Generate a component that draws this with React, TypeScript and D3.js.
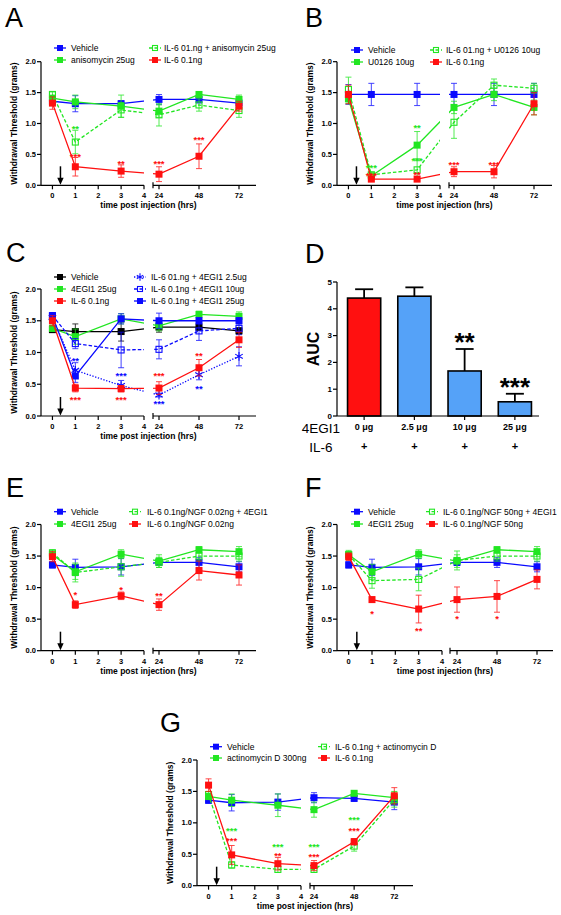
import React from 'react';
import * as d3 from 'd3';

// ---------- shared ----------
const TIMES = [0, 1, 3, 24, 48, 72];
const X_TICKS_LEFT = [0, 1, 2, 3, 4];
const X_TICKS_RIGHT = [24, 48, 72];
const Y_TICKS = [0, 0.5, 1.0, 1.5, 2.0];
const Y_TICK_LABELS = ['0.0', '0.5', '1.0', '1.5', '2.0'];
const ARROW_T = 0.35;

const BLUE = '#0a0aff';
const GREEN = '#22e622';
const RED = '#ff1010';
const BLACK = '#000000';
const BAR_BLUE = '#55a2f8';

// ---------- Panel A ----------
const A_VEH = [1.36, 1.32, 1.32, 1.39, 1.39, 1.33];
const A_VEH_E = [0.04, 0.13, 0.05, 0.08, 0.06, 0.06];
const A_ANISO = [1.41, 1.35, 1.28, 1.2, 1.47, 1.39];
const A_ANISO_E = [0.04, 0.11, 0.18, 0.1, 0.04, 0.07];
const A_IL6ANISO = [1.47, 0.7, 1.22, 1.14, 1.3, 1.21];
const A_IL6ANISO_E = [0.04, 0.19, 0.12, 0.18, 0.1, 0.11];
const A_IL6 = [1.33, 0.3, 0.23, 0.18, 0.47, 1.28];
const A_IL6_E = [0.1, 0.15, 0.1, 0.12, 0.2, 0.08];
const A_STARS = [
  { t: 1, v: 0.95, s: '**', c: GREEN },
  { t: 1, v: 0.49, s: '***', c: RED },
  { t: 3, v: 0.38, s: '**', c: RED },
  { t: 24, v: 0.38, s: '***', c: RED },
  { t: 48, v: 0.76, s: '***', c: RED },
];

// ---------- Panel B ----------
const B_VEH = [1.47, 1.47, 1.47, 1.47, 1.47, 1.47];
const B_VEH_E = [0.16, 0.18, 0.18, 0.18, 0.18, 0.18];
const B_U0126 = [1.4, 0.15, 0.65, 1.26, 1.47, 1.26];
const B_U0126_E = [0.08, 0.03, 0.22, 0.1, 0.1, 0.12];
const B_IL6U = [1.55, 0.17, 0.25, 1.02, 1.62, 1.57];
const B_IL6U_E = [0.2, 0.04, 0.15, 0.26, 0.1, 0.08];
const B_IL6 = [1.47, 0.1, 0.1, 0.22, 0.22, 1.32];
const B_IL6_E = [0.15, 0.03, 0.03, 0.08, 0.1, 0.18];
const B_STARS = [
  { t: 1, v: 0.32, s: '***', c: GREEN },
  { t: 1, v: 0.19, s: '***', c: RED },
  { t: 3, v: 0.96, s: '**', c: GREEN },
  { t: 3, v: 0.42, s: '***', c: GREEN },
  { t: 3, v: 0.2, s: '**', c: RED },
  { t: 24, v: 0.36, s: '***', c: RED },
  { t: 48, v: 0.36, s: '***', c: RED },
];

// ---------- Panel C ----------
const C_VEH = [1.36, 1.33, 1.33, 1.4, 1.4, 1.34];
const C_VEH_E = [0.03, 0.12, 0.15, 0.08, 0.05, 0.05];
const C_EGI = [1.38, 1.25, 1.53, 1.42, 1.6, 1.57];
const C_EGI_E = [0.05, 0.12, 0.08, 0.08, 0.05, 0.07];
const C_IL6 = [1.5, 0.44, 0.43, 0.44, 0.76, 1.2];
const C_IL6_E = [0.08, 0.06, 0.05, 0.1, 0.13, 0.12];
const C_EGI25LOW = [1.55, 0.72, 0.48, 0.33, 0.65, 0.94];
const C_EGI25LOW_E = [0.05, 0.12, 0.08, 0.03, 0.08, 0.15];
const C_EGI10 = [1.58, 1.14, 1.04, 1.05, 1.34, 1.38];
const C_EGI10_E = [0.05, 0.08, 0.28, 0.15, 0.15, 0.1];
const C_EGI25 = [1.57, 0.63, 1.53, 1.5, 1.5, 1.5];
const C_EGI25_E = [0.05, 0.1, 0.08, 0.12, 0.05, 0.05];
const C_STARS = [
  { t: 1, v: 0.9, s: '**', c: BLUE },
  { t: 1, v: 0.29, s: '***', c: RED },
  { t: 3, v: 0.66, s: '***', c: BLUE },
  { t: 3, v: 0.29, s: '***', c: RED },
  { t: 24, v: 0.66, s: '***', c: RED },
  { t: 24, v: 0.22, s: '***', c: BLUE },
  { t: 48, v: 0.98, s: '**', c: RED },
  { t: 48, v: 0.46, s: '**', c: BLUE },
];

// ---------- Panel D ----------
const D_DOSES = ['0 μg', '2.5 μg', '10 μg', '25 μg'];
const D_AUC = [4.4, 4.47, 1.68, 0.53];
const D_AUC_E = [0.33, 0.33, 0.82, 0.3];
const D_STARS = ['', '', '**', '***'];
const D_COLORS = [RED, BAR_BLUE, BAR_BLUE, BAR_BLUE];
const D_Y_TICKS = [0, 1, 2, 3, 4, 5];

// ---------- Panel E ----------
const E_VEH = [1.36, 1.32, 1.33, 1.4, 1.4, 1.33];
const E_VEH_E = [0.05, 0.13, 0.13, 0.05, 0.08, 0.08];
const E_EGI = [1.52, 1.25, 1.53, 1.42, 1.6, 1.57];
const E_EGI_E = [0.07, 0.12, 0.07, 0.1, 0.05, 0.08];
const E_NGF_EGI = [1.55, 1.24, 1.33, 1.4, 1.5, 1.5];
const E_NGF_EGI_E = [0.05, 0.15, 0.15, 0.08, 0.08, 0.08];
const E_NGF = [1.49, 0.73, 0.87, 0.73, 1.27, 1.2];
const E_NGF_E = [0.08, 0.06, 0.06, 0.09, 0.15, 0.16];
const E_STARS = [
  { t: 1, v: 0.92, s: '*', c: RED },
  { t: 3, v: 1.0, s: '*', c: RED },
  { t: 24, v: 0.9, s: '**', c: RED },
];

// ---------- Panel F ----------
const F_VEH = [1.36, 1.32, 1.33, 1.4, 1.4, 1.33];
const F_VEH_E = [0.05, 0.13, 0.13, 0.05, 0.08, 0.08];
const F_EGI = [1.52, 1.25, 1.53, 1.42, 1.6, 1.57];
const F_EGI_E = [0.07, 0.12, 0.07, 0.1, 0.05, 0.08];
const F_NGF_EGI = [1.52, 1.11, 1.13, 1.43, 1.5, 1.5];
const F_NGF_EGI_E = [0.05, 0.12, 0.18, 0.15, 0.08, 0.08];
const F_NGF = [1.49, 0.81, 0.66, 0.81, 0.86, 1.13];
const F_NGF_E = [0.06, 0.04, 0.22, 0.2, 0.25, 0.15];
const F_STARS = [
  { t: 1, v: 0.61, s: '*', c: RED },
  { t: 3, v: 0.34, s: '**', c: RED },
  { t: 24, v: 0.54, s: '*', c: RED },
  { t: 48, v: 0.54, s: '*', c: RED },
];

// ---------- Panel G ----------
const G_VEH = [1.36, 1.32, 1.33, 1.4, 1.39, 1.33];
const G_VEH_E = [0.05, 0.13, 0.13, 0.08, 0.05, 0.12];
const G_ACTD = [1.42, 1.36, 1.28, 1.21, 1.47, 1.4];
const G_ACTD_E = [0.05, 0.1, 0.18, 0.12, 0.03, 0.1];
const G_IL6ACTD = [1.45, 0.33, 0.26, 0.26, 0.63, 1.37];
const G_IL6ACTD_E = [0.05, 0.05, 0.05, 0.05, 0.08, 0.12];
const G_IL6 = [1.6, 0.49, 0.35, 0.32, 0.7, 1.43];
const G_IL6_E = [0.1, 0.15, 0.1, 0.08, 0.05, 0.13];
const G_STARS = [
  { t: 1, v: 0.9, s: '***', c: GREEN },
  { t: 1, v: 0.74, s: '***', c: RED },
  { t: 3, v: 0.65, s: '***', c: GREEN },
  { t: 3, v: 0.51, s: '**', c: RED },
  { t: 24, v: 0.65, s: '***', c: GREEN },
  { t: 24, v: 0.49, s: '***', c: RED },
  { t: 48, v: 1.08, s: '***', c: GREEN },
  { t: 48, v: 0.91, s: '***', c: RED },
];

const FONT = '"Liberation Sans", Arial, Helvetica, sans-serif';

type Marker = 'filled' | 'open' | 'asterisk';
type Series = {
  name: string;
  values: number[];
  errors: number[];
  color: string;
  marker: Marker;
  dash?: string;
};
type Star = { t: number; v: number; s: string; c: string };
type Layout = {
  id: string;
  letter: string;
  letterX: number;
  letterY: number;
  x0: number;
  leftEnd: number;
  rightStart: number;
  x24: number;
  x72: number;
  rightEnd: number;
  yTop: number;
  yBottom: number;
  legendCols: { mx: number; tx: number }[];
  legendRows: number[];
};

const DASH = '3.5,2';
const DOT = '1.3,1.6';

function MarkerShape({ x, y, color, marker, size }: { x: number; y: number; color: string; marker: Marker; size: number }) {
  if (marker === 'filled') {
    return <rect x={x - size / 2} y={y - size / 2} width={size} height={size} fill={color} />;
  }
  if (marker === 'open') {
    const s = size - 1;
    return <rect x={x - s / 2} y={y - s / 2} width={s} height={s} fill="none" stroke={color} strokeWidth={1.1} />;
  }
  const sym = (d3 as any).symbolAsterisk ?? d3.symbolCross;
  const p = d3.symbol(sym, size * size * 1.1)();
  return <path d={p || ''} transform={`translate(${x},${y})`} fill="none" stroke={color} strokeWidth={1.1} />;
}

function LinePanel({ L, series, stars, legend }: { L: Layout; series: Series[]; stars: Star[]; legend: string[][] }) {
  const xl = d3.scaleLinear().domain([-0.5, 4]).range([L.x0, L.leftEnd]);
  const xr = d3.scaleLinear().domain([24, 72]).range([L.x24, L.x72]);
  const px = (t: number) => (t <= 4 ? xl(t) : xr(t));
  const y = d3.scaleLinear().domain([0, 2]).range([L.yBottom, L.yTop]);
  const line = d3
    .line<number>()
    .x((_, i) => px(TIMES[i]))
    .y((v) => y(v));
  const clipId = `clip-${L.id}`;
  const axW = 1.2;
  const tickFs = 7.5;
  const arrowX = xl(ARROW_T);
  const seriesByName: Record<string, Series> = {};
  series.forEach((s) => (seriesByName[s.name] = s));

  return (
    <g>
      <defs>
        <clipPath id={clipId}>
          <rect x={L.x0} y={L.yTop - 30} width={L.leftEnd - L.x0} height={L.yBottom - L.yTop + 30} />
          <rect x={L.rightStart} y={L.yTop - 30} width={L.rightEnd - L.rightStart} height={L.yBottom - L.yTop + 30} />
        </clipPath>
      </defs>
      <text x={L.letterX} y={L.letterY} fontSize={27} fontFamily={FONT}>
        {L.letter}
      </text>

      {/* legend */}
      {legend.map((col, ci) =>
        col.map((name, ri) => {
          const s = seriesByName[name];
          const { mx, tx } = L.legendCols[ci];
          const ly = L.legendRows[ri];
          return (
            <g key={`${ci}-${ri}`}>
              <line x1={mx - 6} x2={mx + 6} y1={ly} y2={ly} stroke={s.color} strokeWidth={1.3} strokeDasharray={s.dash} />
              <MarkerShape x={mx} y={ly} color={s.color} marker={s.marker} size={6} />
              <text x={tx} y={ly} dy="0.35em" fontSize={8.5} fontFamily={FONT}>
                {name}
              </text>
            </g>
          );
        })
      )}

      {/* y axis */}
      <line x1={L.x0} x2={L.x0} y1={y(0)} y2={y(2)} stroke={BLACK} strokeWidth={axW} />
      {Y_TICKS.map((t, i) => (
        <g key={t}>
          <line x1={L.x0 - 4} x2={L.x0} y1={y(t)} y2={y(t)} stroke={BLACK} strokeWidth={axW} />
          <text x={L.x0 - 5} y={y(t)} dy="0.35em" textAnchor="end" fontSize={tickFs} fontWeight="bold" fontFamily={FONT}>
            {Y_TICK_LABELS[i]}
          </text>
        </g>
      ))}
      <text
        transform={`translate(${L.x0 - 27},${(y(0) + y(2)) / 2}) rotate(-90)`}
        textAnchor="middle"
        dy="0.35em"
        fontSize={8.5}
        fontWeight="bold"
        fontFamily={FONT}
      >
        Withdrawal Threshold (grams)
      </text>

      {/* x axis */}
      <line x1={L.x0} x2={L.leftEnd} y1={L.yBottom} y2={L.yBottom} stroke={BLACK} strokeWidth={axW} />
      <line x1={L.rightStart} x2={L.rightEnd} y1={L.yBottom} y2={L.yBottom} stroke={BLACK} strokeWidth={axW} />
      <line x1={L.rightStart} x2={L.rightStart} y1={L.yBottom - 3} y2={L.yBottom + 3} stroke={BLACK} strokeWidth={axW} />
      {X_TICKS_LEFT.map((t) => (
        <g key={`l${t}`}>
          <line x1={xl(t)} x2={xl(t)} y1={L.yBottom} y2={L.yBottom + 4} stroke={BLACK} strokeWidth={axW} />
          <text x={xl(t)} y={L.yBottom + 13} textAnchor="middle" fontSize={tickFs} fontWeight="bold" fontFamily={FONT}>
            {t}
          </text>
        </g>
      ))}
      {X_TICKS_RIGHT.map((t) => (
        <g key={`r${t}`}>
          <line x1={xr(t)} x2={xr(t)} y1={L.yBottom} y2={L.yBottom + 4} stroke={BLACK} strokeWidth={axW} />
          <text x={xr(t)} y={L.yBottom + 13} textAnchor="middle" fontSize={tickFs} fontWeight="bold" fontFamily={FONT}>
            {t}
          </text>
        </g>
      ))}
      <text x={(L.x0 + L.rightEnd) / 2} y={L.yBottom + 23} textAnchor="middle" fontSize={8.5} fontWeight="bold" fontFamily={FONT}>
        time post injection (hrs)
      </text>

      {/* arrow */}
      <line x1={arrowX} x2={arrowX} y1={L.yBottom - 19} y2={L.yBottom - 6} stroke={BLACK} strokeWidth={1.5} />
      <path d={`M${arrowX - 3.2},${L.yBottom - 7.5} L${arrowX + 3.2},${L.yBottom - 7.5} L${arrowX},${L.yBottom - 0.5} Z`} fill={BLACK} />

      {/* series */}
      {series.map((s) => (
        <g key={s.name}>
          <path d={line(s.values) || ''} fill="none" stroke={s.color} strokeWidth={1.3} strokeDasharray={s.dash} clipPath={`url(#${clipId})`} />
          {s.values.map((v, i) => {
            const cx = px(TIMES[i]);
            const e = s.errors[i];
            return (
              <g key={i} stroke={s.color} strokeWidth={0.9} opacity={0.85}>
                <line x1={cx} x2={cx} y1={y(v - e)} y2={y(v + e)} />
                <line x1={cx - 3} x2={cx + 3} y1={y(v - e)} y2={y(v - e)} />
                <line x1={cx - 3} x2={cx + 3} y1={y(v + e)} y2={y(v + e)} />
              </g>
            );
          })}
          {s.values.map((v, i) => (
            <MarkerShape key={`m${i}`} x={px(TIMES[i])} y={y(v)} color={s.color} marker={s.marker} size={7} />
          ))}
        </g>
      ))}

      {/* significance */}
      {stars.map((st, i) => (
        <text key={i} x={px(st.t)} y={y(st.v) + 5} textAnchor="middle" fontSize={9.5} fontWeight="bold" fill={st.c} fontFamily={FONT}>
          {st.s}
        </text>
      ))}
    </g>
  );
}

function BarPanel() {
  const xb = d3.scaleBand<string>().domain(D_DOSES).range([339, 540]).paddingInner(0.34).paddingOuter(0.17);
  const yb = d3.scaleLinear().domain([0, 5]).range([416, 282]);
  const x0 = 337;
  const x1 = 539;
  const bw = xb.bandwidth();
  return (
    <g>
      <text x={305} y={263} fontSize={27} fontFamily={FONT}>
        D
      </text>
      {D_DOSES.map((d, i) => {
        const cx = (xb(d) as number) + bw / 2;
        const top = yb(D_AUC[i]);
        const etop = yb(D_AUC[i] + D_AUC_E[i]);
        return (
          <g key={d}>
            <line x1={cx} x2={cx} y1={top} y2={etop} stroke={BLACK} strokeWidth={1.8} />
            <line x1={cx - 9} x2={cx + 9} y1={etop} y2={etop} stroke={BLACK} strokeWidth={1.8} />
            <rect x={xb(d)} y={top} width={bw} height={yb(0) - top} fill={D_COLORS[i]} stroke={BLACK} strokeWidth={1.6} />
            {D_STARS[i] && (
              <text x={cx} y={etop + 2} textAnchor="middle" fontSize={26} fontWeight="bold" fontFamily={FONT}>
                {D_STARS[i]}
              </text>
            )}
            <line x1={cx} x2={cx} y1={yb(0)} y2={yb(0) + 4} stroke={BLACK} strokeWidth={1.2} />
            <text x={cx} y={430} textAnchor="middle" fontSize={9} fontWeight="bold" fontFamily={FONT}>
              {d}
            </text>
            <text x={cx} y={450} textAnchor="middle" fontSize={11} fontWeight="bold" fontFamily={FONT}>
              +
            </text>
          </g>
        );
      })}
      <line x1={x0} x2={x0} y1={yb(0)} y2={yb(5)} stroke={BLACK} strokeWidth={1.2} />
      <line x1={x0} x2={x1} y1={yb(0)} y2={yb(0)} stroke={BLACK} strokeWidth={1.2} />
      {D_Y_TICKS.map((t) => (
        <g key={t}>
          <line x1={x0 - 4} x2={x0} y1={yb(t)} y2={yb(t)} stroke={BLACK} strokeWidth={1.2} />
          <text x={x0 - 5} y={yb(t)} dy="0.33em" textAnchor="end" fontSize={8} fontWeight="bold" fontFamily={FONT}>
            {t}
          </text>
        </g>
      ))}
      <text transform={`translate(313,${(yb(0) + yb(5)) / 2}) rotate(-90)`} textAnchor="middle" dy="0.35em" fontSize={16} fontWeight="bold" fontFamily={FONT}>
        AUC
      </text>
      <text x={321} y={433} textAnchor="middle" fontSize={13.5} fontFamily={FONT}>
        4EGI1
      </text>
      <text x={321} y={452} textAnchor="middle" fontSize={13.5} fontFamily={FONT}>
        IL-6
      </text>
    </g>
  );
}

const LX_A = { x0: 41, leftEnd: 144, rightStart: 153, x24: 159, x72: 239, rightEnd: 256 };
const LX_B = { x0: 337, leftEnd: 440, rightStart: 449, x24: 454, x72: 534, rightEnd: 552 };
const LX_F = { x0: 337, leftEnd: 442, rightStart: 450, x24: 457, x72: 537, rightEnd: 553 };

const LAYOUT_A: Layout = { id: 'A', letter: 'A', letterX: 5, letterY: 27, ...LX_A, yTop: 61.7, yBottom: 185.3, legendCols: [{ mx: 60, tx: 71 }, { mx: 155, tx: 164 }], legendRows: [48, 60] };
const LAYOUT_B: Layout = { id: 'B', letter: 'B', letterX: 305, letterY: 27, ...LX_B, yTop: 61.7, yBottom: 185.3, legendCols: [{ mx: 357, tx: 368 }, { mx: 436, tx: 446 }], legendRows: [50, 62] };
const LAYOUT_C: Layout = { id: 'C', letter: 'C', letterX: 6, letterY: 262, ...LX_A, yTop: 289, yBottom: 416, legendCols: [{ mx: 60, tx: 71 }, { mx: 140, tx: 151 }], legendRows: [277, 289, 301] };
const LAYOUT_E: Layout = { id: 'E', letter: 'E', letterX: 6, letterY: 497, ...LX_A, yTop: 524.5, yBottom: 650.7, legendCols: [{ mx: 60, tx: 71 }, { mx: 135, tx: 147 }], legendRows: [511.7, 524] };
const LAYOUT_F: Layout = { id: 'F', letter: 'F', letterX: 305, letterY: 497, ...LX_F, yTop: 524.5, yBottom: 650.7, legendCols: [{ mx: 357, tx: 368 }, { mx: 432, tx: 443 }], legendRows: [511.7, 524] };
const LAYOUT_G: Layout = { id: 'G', letter: 'G', letterX: 160, letterY: 732, x0: 197, leftEnd: 301, rightStart: 310, x24: 314, x72: 394.3, rightEnd: 413, yTop: 760, yBottom: 885.7, legendCols: [{ mx: 216, tx: 227 }, { mx: 324, tx: 335 }], legendRows: [746.7, 758] };

const SERIES_A: Series[] = [
  { name: 'Vehicle', values: A_VEH, errors: A_VEH_E, color: BLUE, marker: 'filled' },
  { name: 'anisomycin 25ug', values: A_ANISO, errors: A_ANISO_E, color: GREEN, marker: 'filled' },
  { name: 'IL-6 01.ng + anisomycin 25ug', values: A_IL6ANISO, errors: A_IL6ANISO_E, color: GREEN, marker: 'open', dash: DASH },
  { name: 'IL-6 0.1ng', values: A_IL6, errors: A_IL6_E, color: RED, marker: 'filled' },
];
const SERIES_B: Series[] = [
  { name: 'Vehicle', values: B_VEH, errors: B_VEH_E, color: BLUE, marker: 'filled' },
  { name: 'U0126 10ug', values: B_U0126, errors: B_U0126_E, color: GREEN, marker: 'filled' },
  { name: 'IL-6 01.ng + U0126 10ug', values: B_IL6U, errors: B_IL6U_E, color: GREEN, marker: 'open', dash: DASH },
  { name: 'IL-6 0.1ng', values: B_IL6, errors: B_IL6_E, color: RED, marker: 'filled' },
];
const SERIES_C: Series[] = [
  { name: 'Vehicle', values: C_VEH, errors: C_VEH_E, color: BLACK, marker: 'filled' },
  { name: '4EGI1 25ug', values: C_EGI, errors: C_EGI_E, color: GREEN, marker: 'filled' },
  { name: 'IL-6 0.1ng + 4EGI1 10ug', values: C_EGI10, errors: C_EGI10_E, color: BLUE, marker: 'open', dash: DASH },
  { name: 'IL-6 01.ng + 4EGI1 2.5ug', values: C_EGI25LOW, errors: C_EGI25LOW_E, color: BLUE, marker: 'asterisk', dash: DOT },
  { name: 'IL-6 0.1ng + 4EGI1 25ug', values: C_EGI25, errors: C_EGI25_E, color: BLUE, marker: 'filled' },
  { name: 'IL-6 0.1ng', values: C_IL6, errors: C_IL6_E, color: RED, marker: 'filled' },
];
const SERIES_E: Series[] = [
  { name: 'Vehicle', values: E_VEH, errors: E_VEH_E, color: BLUE, marker: 'filled' },
  { name: '4EGI1 25ug', values: E_EGI, errors: E_EGI_E, color: GREEN, marker: 'filled' },
  { name: 'IL-6 0.1ng/NGF 0.02ng + 4EGI1', values: E_NGF_EGI, errors: E_NGF_EGI_E, color: GREEN, marker: 'open', dash: DASH },
  { name: 'IL-6 0.1ng/NGF 0.02ng', values: E_NGF, errors: E_NGF_E, color: RED, marker: 'filled' },
];
const SERIES_F: Series[] = [
  { name: 'Vehicle', values: F_VEH, errors: F_VEH_E, color: BLUE, marker: 'filled' },
  { name: '4EGI1 25ug', values: F_EGI, errors: F_EGI_E, color: GREEN, marker: 'filled' },
  { name: 'IL-6 0.1ng/NGF 50ng + 4EGI1', values: F_NGF_EGI, errors: F_NGF_EGI_E, color: GREEN, marker: 'open', dash: DASH },
  { name: 'IL-6 0.1ng/NGF 50ng', values: F_NGF, errors: F_NGF_E, color: RED, marker: 'filled' },
];
const SERIES_G: Series[] = [
  { name: 'Vehicle', values: G_VEH, errors: G_VEH_E, color: BLUE, marker: 'filled' },
  { name: 'actinomycin D 300ng', values: G_ACTD, errors: G_ACTD_E, color: GREEN, marker: 'filled' },
  { name: 'IL-6 0.1ng + actinomycin D', values: G_IL6ACTD, errors: G_IL6ACTD_E, color: GREEN, marker: 'open', dash: DASH },
  { name: 'IL-6 0.1ng', values: G_IL6, errors: G_IL6_E, color: RED, marker: 'filled' },
];

export default function App() {
  return (
    <svg width={561} height={915} style={{ position: 'absolute', left: 0, top: 0, background: '#fff' }} fontFamily={FONT}>
      <rect x={0} y={0} width={561} height={915} fill="#fff" />
      <LinePanel L={LAYOUT_A} series={SERIES_A} stars={A_STARS} legend={[['Vehicle', 'anisomycin 25ug'], ['IL-6 01.ng + anisomycin 25ug', 'IL-6 0.1ng']]} />
      <LinePanel L={LAYOUT_B} series={SERIES_B} stars={B_STARS} legend={[['Vehicle', 'U0126 10ug'], ['IL-6 01.ng + U0126 10ug', 'IL-6 0.1ng']]} />
      <LinePanel
        L={LAYOUT_C}
        series={SERIES_C}
        stars={C_STARS}
        legend={[
          ['Vehicle', '4EGI1 25ug', 'IL-6 0.1ng'],
          ['IL-6 01.ng + 4EGI1 2.5ug', 'IL-6 0.1ng + 4EGI1 10ug', 'IL-6 0.1ng + 4EGI1 25ug'],
        ]}
      />
      <BarPanel />
      <LinePanel L={LAYOUT_E} series={SERIES_E} stars={E_STARS} legend={[['Vehicle', '4EGI1 25ug'], ['IL-6 0.1ng/NGF 0.02ng + 4EGI1', 'IL-6 0.1ng/NGF 0.02ng']]} />
      <LinePanel L={LAYOUT_F} series={SERIES_F} stars={F_STARS} legend={[['Vehicle', '4EGI1 25ug'], ['IL-6 0.1ng/NGF 50ng + 4EGI1', 'IL-6 0.1ng/NGF 50ng']]} />
      <LinePanel L={LAYOUT_G} series={SERIES_G} stars={G_STARS} legend={[['Vehicle', 'actinomycin D 300ng'], ['IL-6 0.1ng + actinomycin D', 'IL-6 0.1ng']]} />
    </svg>
  );
}
